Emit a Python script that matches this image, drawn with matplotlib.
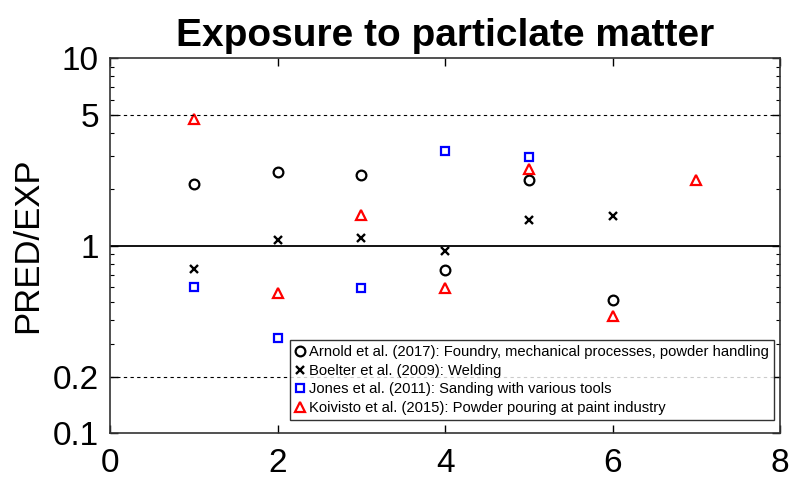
import matplotlib.pyplot as plt
from matplotlib.ticker import FixedLocator, NullFormatter, LogLocator

plt.rcParams['font.family'] = ['Liberation Sans', 'DejaVu Sans']

# dados
x_arnold = [1, 2, 3, 4, 5, 6]
y_arnold = [2.13, 2.47, 2.38, 0.74, 2.24, 0.51]
x_boelter = [1, 2, 3, 4, 5, 6]
y_boelter = [0.75, 1.07, 1.10, 0.93, 1.37, 1.44]
x_jones = [1, 2, 3, 4, 5]
y_jones = [0.60, 0.32, 0.59, 3.2, 2.95]
x_koivisto = [1, 2, 3, 4, 5, 6, 7]
y_koivisto = [4.71, 0.56, 1.45, 0.59, 2.55, 0.42, 2.24]

rotulos = ['Arnold et al. (2017): Foundry, mechanical processes, powder handling',
           'Boelter et al. (2009): Welding',
           'Jones et al. (2011): Sanding with various tools',
           'Koivisto et al. (2015): Powder pouring at paint industry']

fig = plt.figure(figsize=(7.97, 4.8), dpi=100)
ax = fig.add_axes([0.138, 0.098, 0.841, 0.781])

ax.plot(x_arnold, y_arnold, 'o', mfc='none', mec='black', mew=1.6, ms=7, label=rotulos[0])
ax.plot(x_boelter, y_boelter, 'x', color='black', mew=1.7, ms=5.5, label=rotulos[1])
ax.plot(x_jones, y_jones, 's', mfc='none', mec='blue', mew=1.6, ms=6, label=rotulos[2])
ax.plot(x_koivisto, y_koivisto, '^', mfc='none', mec='red', mew=1.6, ms=7, label=rotulos[3])

ax.axhline(1, color='black', lw=1.3)
ax.axhline(5, color='black', lw=0.8, ls=(0, (3, 3)))
ax.axhline(0.2, color='black', lw=0.8, ls=(0, (3, 3)))

ax.set_yscale('log')
ax.set_ylim(0.1, 10)
ax.set_xlim(0, 8)
ax.yaxis.set_major_locator(FixedLocator([0.1, 0.2, 1, 5, 10]))
ax.yaxis.set_major_formatter(plt.FuncFormatter(lambda v, p: '%g' % v))
ax.yaxis.set_minor_locator(LogLocator(base=10, subs=range(2, 10)))
ax.yaxis.set_minor_formatter(NullFormatter())
ax.set_xticks([0, 2, 4, 6, 8])

ax.tick_params(which='both', direction='in', top=True, right=True, labelsize=24)
ax.tick_params(axis='y', pad=8)
ax.tick_params(axis='x', pad=11)
ax.tick_params(which='major', length=6, width=1)
ax.tick_params(which='minor', length=3, width=0.8)
for s in ax.spines.values():
    s.set_linewidth(1.2)
    s.set_color('#333333')

ax.set_ylabel('PRED/EXP', fontsize=25, labelpad=6)
ax.set_title('Exposure to particlate matter', fontsize=28, fontweight='bold', pad=9)

leg = ax.legend(loc='lower right', bbox_to_anchor=(0.99, 0.035), fontsize=10.6,
                frameon=True, fancybox=False, edgecolor='black', handlelength=0.6,
                handletextpad=0.3, borderpad=0.35, labelspacing=0.3, borderaxespad=0)
leg.get_frame().set_linewidth(1.0)

fig.savefig('out.png', dpi=100)
